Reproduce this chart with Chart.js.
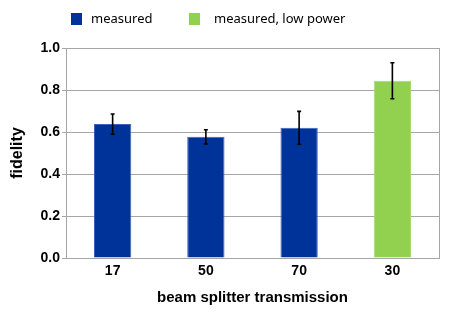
<!DOCTYPE html>
<html lang="en">
<head>
    <meta charset="UTF-8">
    <title>Fidelity vs beam splitter transmission</title>
    <style>
        html, body { margin: 0; padding: 0; background: #fff; }
        .chartBox { width: 457px; height: 312px; }
    </style>
</head>
<body>
    <div class="chartBox">
        <canvas id="myChart" width="457" height="312"></canvas>
    </div>

    <script src="https://cdn.jsdelivr.net/npm/chart.js@4"></script>
    <script>
        // data
        const categories = ['17', '50', '70', '30'];
        const seriesNames = ['measured', 'measured, low power'];
        const measured = [0.638, 0.577, 0.620, null];
        const measuredErr = [0.048, 0.034, 0.078, null];
        const lowPower = [null, null, null, 0.844];
        const lowPowerErr = [null, null, null, 0.086];
        const yTicks = [0, 0.2, 0.4, 0.6, 0.8, 1.0];

        const gridGrey = '#a6a6a6';

        // error bars, drawn through the y scale
        const errorBars = {
            id: 'errorBars',
            afterDatasetsDraw(chart) {
                const ctx = chart.ctx;
                const y = chart.scales.y;
                chart.data.datasets.forEach((ds, di) => {
                    const meta = chart.getDatasetMeta(di);
                    ds.errors.forEach((e, i) => {
                        if (e == null || ds.data[i] == null) return;
                        const x = meta.data[i].x;
                        const top = y.getPixelForValue(ds.data[i] + e);
                        const bot = y.getPixelForValue(ds.data[i] - e);
                        ctx.save();
                        ctx.strokeStyle = '#000';
                        ctx.lineWidth = 1.6;
                        ctx.beginPath();
                        ctx.moveTo(x, top); ctx.lineTo(x, bot);
                        ctx.moveTo(x - 2, top); ctx.lineTo(x + 2, top);
                        ctx.moveTo(x - 2, bot); ctx.lineTo(x + 2, bot);
                        ctx.stroke();
                        ctx.restore();
                    });
                });
            }
        };

        // grey frame round the plot area
        const plotFrame = {
            id: 'plotFrame',
            beforeDatasetsDraw(chart) {
                const {ctx, chartArea: a} = chart;
                ctx.save();
                ctx.strokeStyle = gridGrey;
                ctx.lineWidth = 1;
                ctx.strokeRect(a.left + 0.5, a.top + 0.5, a.right - a.left, a.bottom - a.top);
                ctx.restore();
            }
        };

        // legend laid out like the original (not centred)
        const topLegend = {
            id: 'topLegend',
            afterDraw(chart) {
                const ctx = chart.ctx;
                const boxX = [71, 189];
                const textX = [91, 214];
                ctx.save();
                ctx.font = '13px "Noto Sans", sans-serif';
                ctx.textBaseline = 'middle';
                ctx.fillStyle = '#000';
                chart.data.datasets.forEach((ds, i) => {
                    ctx.fillStyle = ds.backgroundColor;
                    ctx.fillRect(boxX[i], 13, 11, 12);
                    ctx.fillStyle = '#000';
                    ctx.fillText(ds.label, textX[i], 19.5);
                });
                ctx.restore();
            }
        };

        const ctx = document.getElementById('myChart').getContext('2d');
        Chart.defaults.font.family = '"Liberation Sans", Arial, sans-serif';
        Chart.defaults.color = '#000';

        const chart = new Chart(ctx, {
            type: 'bar',
            data: {
                labels: categories,
                datasets: [
                    {label: seriesNames[0], data: measured, errors: measuredErr,
                     backgroundColor: '#003399', borderColor: '#3d62b8', borderWidth: 1},
                    {label: seriesNames[1], data: lowPower, errors: lowPowerErr,
                     backgroundColor: '#92d050', borderColor: '#a6da70', borderWidth: 1}
                ]
            },
            options: {
                responsive: false,
                animation: false,
                skipNull: true,
                barPercentage: 0.4,
                categoryPercentage: 1.0,
                layout: {padding: {top: 48, right: 18, left: 0, bottom: 0}},
                plugins: {
                    legend: {display: false},
                    tooltip: {enabled: false}
                },
                scales: {
                    x: {
                        grid: {display: false, drawTicks: false},
                        border: {display: true, color: gridGrey},
                        ticks: {font: {size: 14, weight: 'bold'}, padding: 5},
                        title: {display: true, text: 'beam splitter transmission',
                                font: {size: 15, weight: 'bold'}, padding: {top: 0, bottom: 5}},
                        afterFit: s => { s.height = 54; }
                    },
                    y: {
                        min: 0, max: 1,
                        afterBuildTicks: s => { s.ticks = yTicks.map(v => ({value: v})); },
                        grid: {color: gridGrey, tickLength: 4},
                        border: {display: true, color: gridGrey},
                        ticks: {font: {size: 14, weight: 'bold'}, padding: 2,
                                callback: v => v.toFixed(1)},
                        title: {display: true, text: 'fidelity',
                                font: {size: 16, weight: 'bold'}, padding: {top: 8, bottom: 0}},
                        afterFit: s => { s.width = 66; }
                    }
                }
            },
            plugins: [plotFrame, errorBars, topLegend]
        });
    </script>
</body>
</html>
